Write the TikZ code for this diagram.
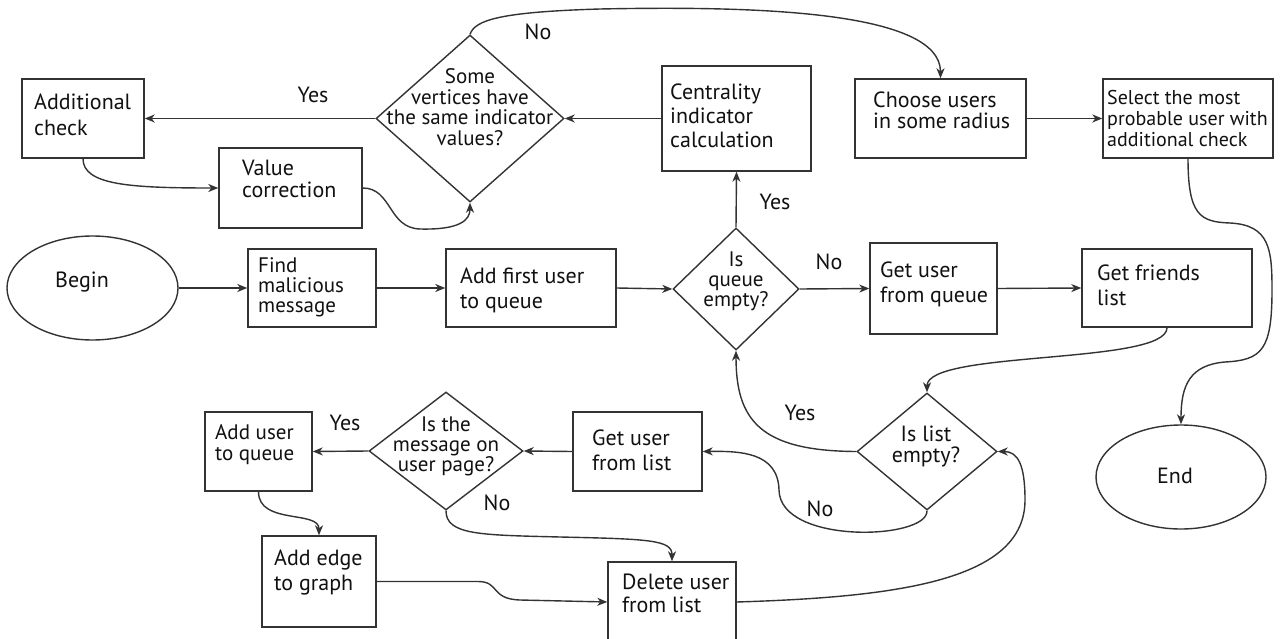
\documentclass[tikz,border=0pt]{standalone}
\usepackage{fontspec}
\setmainfont{PT Sans}
\usetikzlibrary{shapes.geometric,arrows.meta}
\definecolor{lc}{HTML}{333333}
\definecolor{tc}{HTML}{111111}
\newcommand\fz[1]{\fontsize{22}{#1}\selectfont}
\newcommand\fy[1]{\fontsize{21}{#1}\selectfont}
\begin{document}
\begin{tikzpicture}[x=1pt,y=-1pt,
  box/.style={draw=lc, line width=1.4pt, rectangle, inner sep=0pt},
  dia/.style={draw=lc, line width=1.4pt, diamond, inner sep=0pt},
  ell/.style={draw=lc, line width=1.4pt, ellipse, inner sep=0pt},
  txt/.style={inner sep=0pt, align=left, anchor=west, text=tc},
  ctxt/.style={inner sep=0pt, align=center, text=tc},
  lbl/.style={inner sep=0pt, text=tc, font=\fz{24}},
  arr/.style={draw=lc, line width=1.4pt, -{Stealth[length=10pt,width=8pt,inset=3pt]}}]
\clip (0,0) rectangle (1284,639);
\fill[white] (0,0) rectangle (1284,639);

% shapes
\node[ell, minimum width=171, minimum height=104] (B) at (92.5,288) {};
\node[ell, minimum width=170, minimum height=104] (E) at (1181,477) {};
\node[box, minimum width=122, minimum height=79] (AC) at (83,118.5) {};
\node[box, minimum width=143, minimum height=80] (VC) at (290.5,188) {};
\node[box, minimum width=149, minimum height=105] (CI) at (736.5,118.5) {};
\node[box, minimum width=171, minimum height=79] (CU) at (940.5,118.5) {};
\node[box, minimum width=170, minimum height=79] (SM) at (1188,118.5) {};
\node[box, minimum width=128, minimum height=78] (FM) at (312,288) {};
\node[box, minimum width=170, minimum height=78] (AF) at (531,288) {};
\node[box, minimum width=127, minimum height=91] (GQ) at (933.5,288.5) {};
\node[box, minimum width=170, minimum height=78] (GF) at (1167,288) {};
\node[box, minimum width=129, minimum height=79] (GL) at (637.5,451.5) {};
\node[box, minimum width=107, minimum height=79] (AU) at (258.5,451.5) {};
\node[box, minimum width=114, minimum height=91] (AE) at (319,581.5) {};
\node[box, minimum width=128, minimum height=80] (DL) at (672,602) {};
\node[dia, minimum width=188, minimum height=167] (D1) at (470,118.5) {};
\node[dia, minimum width=126, minimum height=122] (D2) at (736,289) {};
\node[dia, minimum width=140, minimum height=117] (D3) at (927,451.5) {};
\node[dia, minimum width=154, minimum height=118] (D4) at (446,451) {};

% texts
\node[ctxt, font=\fz{24}] (Bt) at (82,282) {Begin};
\node[ctxt, font=\fz{24}] (Et) at (1175,476) {End};
\node[txt, font=\fz{26}] (ACt) at (34,115) {Additional\\check};
\node[txt, font=\fz{22}] (VCt) at (242,179) {Value\\correction};
\node[txt, font=\fz{24}] (CIt) at (670,116) {Centrality\\indicator\\calculation};
\node[txt, font=\fz{21}] (CUt) at (873,110.5) {Choose users\\in some radius};
\node[txt, font=\fontsize{20}{21}\selectfont] (SMt) at (1107,119) {Select the most\\probable user with\\additional check};
\node[txt, font=\fy{20}] (FMt) at (258,287) {Find\\malicious\\message};
\node[txt, font=\fz{25}] (AFt) at (460,290.5) {Add first user\\to queue};
\node[txt, font=\fz{25}] (GQt) at (880,284.5) {Get user\\from queue};
\node[txt, font=\fz{25}] (GFt) at (1097,285.5) {Get friends\\list};
\node[txt, font=\fz{25}] (GLt) at (592,450.5) {Get user\\from list};
\node[txt, font=\fy{21}] (AUt) at (215,445) {Add user\\to queue};
\node[txt, font=\fz{25}] (AEt) at (274,572.5) {Add edge\\to graph};
\node[txt, font=\fz{23}] (DLt) at (622,593.5) {Delete user\\from list};
\node[ctxt, font=\fy{20.5}] (D1t) at (470,107) {Some\\vertices have\\the same indicator\\values?};
\node[ctxt, font=\fy{20}] (D2t) at (736,281) {Is\\queue\\empty?};
\node[ctxt, font=\fz{21}] (D3t) at (926,446) {Is list\\empty?};
\node[ctxt, font=\fy{20}] (D4t) at (446,446) {Is the\\message on\\user page?};

% edge labels
\node[lbl] (l1) at (313,95) {Yes};
\node[lbl] (l2) at (538,32) {No};
\node[lbl] (l3) at (775,202) {Yes};
\node[lbl] (l4) at (829,262) {No};
\node[lbl] (l5) at (800,413) {Yes};
\node[lbl] (l6) at (820,509) {No};
\node[lbl] (l7) at (345,423) {Yes};
\node[lbl] (l8) at (497,503) {No};

% connectors
\draw[arr] (B.east) -- (FM.west);
\draw[arr] (FM.east) -- (AF.west);
\draw[arr] (AF.east) -- (D2.west);
\draw[arr] (D2.east) -- (GQ.west);
\draw[arr] (GQ.east) -- (GF.west);
\draw[arr] (GF.south) .. controls (1167,365) and (927,350) .. (D3.north);
\draw[arr] (D3.west) .. controls (760,451) and (736,420) .. (D2.south);
\draw[arr] (D3.south) .. controls (928,540) and (780,545) .. (779,490)
   .. controls (778,452) and (740,451) .. (GL.east);
\draw[arr] (GL.west) -- (D4.east);
\draw[arr] (D4.west) -- (AU.east);
\draw[arr] (AU.south) .. controls (258.5,525) and (319,510) .. (AE.north);
\draw[arr] (AE.east) -- (478,581.5) .. controls (500,581.5) and (490,599) .. (520,600) -- (DL.west);
\draw[arr] (D4.south) .. controls (446,535) and (480,535) .. (560,537)
   .. controls (650,539) and (672,540) .. (DL.north);
\draw[arr] (DL.east) .. controls (900,597) and (1025,580) .. (1025,500)
   .. controls (1025,465) and (1018,451.5) .. (D3.east);
\draw[arr] (D2.north) -- (CI.south);
\draw[arr] (CI.west) -- (D1.east);
\draw[arr] (D1.west) -- (AC.east);
\draw[arr] (AC.south) .. controls (83,185) and (130,188) .. (VC.west);
\draw[arr] (VC.east) .. controls (392,188) and (388,228) .. (420,229)
   .. controls (460,230) and (470,220) .. (D1.south);
\draw[arr] (D1.north) .. controls (475,20) and (500,12) .. (600,9)
   .. controls (750,6) and (940.5,10) .. (CU.north);
\draw[arr] (CU.east) -- (SM.west);
\draw[arr] (SM.south) .. controls (1188,215) and (1200,222) .. (1230,223)
   .. controls (1270,225) and (1272,250) .. (1272,290)
   .. controls (1272,350) and (1262,360) .. (1225,362)
   .. controls (1190,365) and (1181,385) .. (E.north);
\end{tikzpicture}
\end{document}
